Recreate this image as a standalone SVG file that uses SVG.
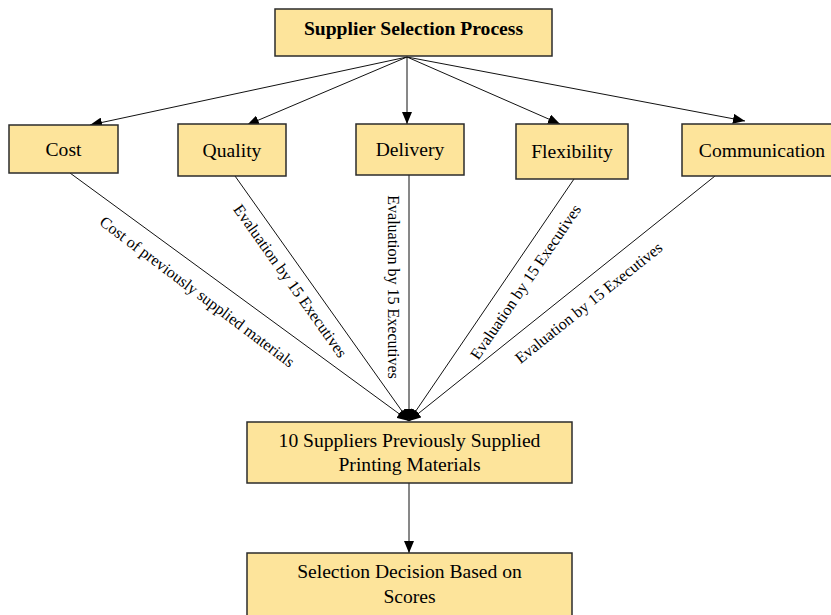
<svg xmlns="http://www.w3.org/2000/svg" width="831" height="615" viewBox="0 0 831 615">
<style>
.box{fill:#FDE49B;stroke:#2b2b2b;stroke-width:1.5}
text{font-family:"Liberation Serif","Times New Roman",serif;fill:#000;text-anchor:middle}
.t{font-size:19.6px}
.b{font-weight:bold}
.e{stroke:#111;stroke-width:1;fill:none;marker-end:url(#ah)}
.l{font-size:16px}
</style>
<defs>
<marker id="ah" markerUnits="userSpaceOnUse" markerWidth="12" markerHeight="10" refX="12" refY="5" orient="auto" viewBox="0 0 12 10">
<path d="M0,0 L12,5 L0,10 z" fill="#000"/>
</marker>
</defs>
<g id="connectors">
<line class="e" x1="407" y1="57" x2="90" y2="125"/>
<line class="e" x1="407" y1="57" x2="247" y2="125"/>
<line class="e" x1="407" y1="57" x2="407" y2="124"/>
<line class="e" x1="407" y1="57" x2="560" y2="124"/>
<line class="e" x1="407" y1="57" x2="745" y2="121"/>
<line class="e" x1="70" y1="173" x2="409" y2="421"/>
<line class="e" x1="235" y1="176" x2="409" y2="421"/>
<line class="e" x1="409" y1="175" x2="409" y2="421"/>
<line class="e" x1="574" y1="179" x2="409" y2="421"/>
<line class="e" x1="715" y1="176" x2="409" y2="421"/>
<line class="e" x1="409" y1="483" x2="409" y2="553"/>
<text class="l" font-family="Liberation Serif, serif" transform="translate(194,296) rotate(37)">Cost of previously supplied materials</text>
<text class="l" font-family="Liberation Serif, serif" transform="translate(286,284) rotate(54.6)">Evaluation by 15 Executives</text>
<text class="l" font-family="Liberation Serif, serif" transform="translate(388,287) rotate(90)">Evaluation by 15 Executives</text>
<text class="l" font-family="Liberation Serif, serif" transform="translate(530,285) rotate(-55.7)">Evaluation by 15 Executives</text>
<text class="l" font-family="Liberation Serif, serif" transform="translate(592,307) rotate(-38.7)">Evaluation by 15 Executives</text>
</g>
<g id="root">
<rect class="box" x="275" y="9" width="277" height="47"/>
<text class="t b" font-family="Liberation Serif, serif" x="413.5" y="35">Supplier Selection Process</text>
</g>
<g id="cost">
<rect class="box" x="9" y="125" width="109" height="48"/>
<text class="t" font-family="Liberation Serif, serif" x="63.5" y="156">Cost</text>
</g>
<g id="quality">
<rect class="box" x="178" y="124" width="108" height="52"/>
<text class="t" font-family="Liberation Serif, serif" x="232" y="157">Quality</text>
</g>
<g id="delivery">
<rect class="box" x="356" y="124" width="108" height="51"/>
<text class="t" font-family="Liberation Serif, serif" x="410" y="156">Delivery</text>
</g>
<g id="flexibility">
<rect class="box" x="516" y="124" width="112" height="55"/>
<text class="t" font-family="Liberation Serif, serif" x="572" y="158">Flexibility</text>
</g>
<g id="communication">
<rect class="box" x="682" y="124" width="160" height="52"/>
<text class="t" font-family="Liberation Serif, serif" x="762" y="157">Communication</text>
</g>
<g id="suppliers">
<rect class="box" x="247" y="422" width="325" height="61"/>
<text class="t" font-family="Liberation Serif, serif" x="409.5" y="447">10 Suppliers Previously Supplied</text>
<text class="t" font-family="Liberation Serif, serif" x="409.5" y="471">Printing Materials</text>
</g>
<g id="decision">
<rect class="box" x="247" y="553" width="325" height="70"/>
<text class="t" font-family="Liberation Serif, serif" x="409.5" y="578">Selection Decision Based on</text>
<text class="t" font-family="Liberation Serif, serif" x="409.5" y="603">Scores</text>
</g>
</svg>
